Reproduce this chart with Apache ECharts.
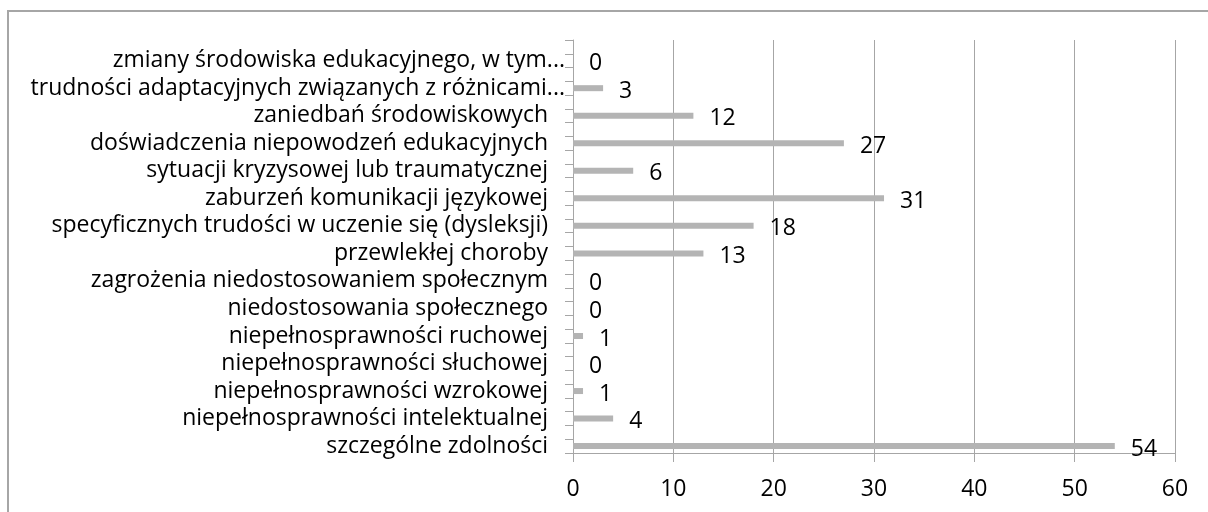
<!DOCTYPE html>
<html>
<head>
<meta charset="utf-8">
<script src="https://cdn.jsdelivr.net/npm/echarts@6/dist/echarts.min.js"></script>
<style>
  html, body { margin: 0; padding: 0; background: #fff; }
  #main { width: 1208px; height: 512px; }
</style>
</head>
<body>
<div id="main"></div>
<script>
// kategorie od góry do dołu
var categories = [
	"zmiany środowiska edukacyjnego, w tym...",
	"trudności adaptacyjnych związanych z różnicami...",
	"zaniedbań środowiskowych",
	"doświadczenia niepowodzeń edukacyjnych",
	"sytuacji kryzysowej lub traumatycznej",
	"zaburzeń komunikacji językowej",
	"specyficznych trudości w uczenie się (dysleksji)",
	"przewlekłej choroby",
	"zagrożenia niedostosowaniem społecznym",
	"niedostosowania społecznego",
	"niepełnosprawności ruchowej",
	"niepełnosprawności słuchowej",
	"niepełnosprawności wzrokowej",
	"niepełnosprawności intelektualnej",
	"szczególne zdolności"
];
var values = [0, 3, 12, 27, 6, 31, 18, 13, 0, 0, 1, 0, 1, 4, 54];
var xTicks = [0, 10, 20, 30, 40, 50, 60];

var FONT = "Open Sans";
var FSIZE = 23;
var GRAY = "#a6a6a6";

// każda kategoria zajmuje dwa pola osi, słupek w dolnym
var slotLabels = [];
var slotValues = [];
for (var i = 0; i < categories.length; i++) {
	slotLabels.push("");
	slotValues.push("-");
	slotLabels.push(categories[i]);
	slotValues.push(values[i]);
}

var myChart = echarts.init(document.getElementById("main"));
var option = {
	backgroundColor: "#fff",
	animation: false,
	textStyle: { fontFamily: FONT },
	graphic: [{
		type: "rect",
		shape: { x: 8, y: 11, width: 1300, height: 600 },
		style: { fill: "none", stroke: GRAY, lineWidth: 2 },
		silent: true
	}],
	grid: { left: 573, top: 40, width: 602, height: 413 },
	xAxis: {
		type: "value",
		min: xTicks[0],
		max: xTicks[xTicks.length - 1],
		interval: 10,
		axisLine: { show: true, lineStyle: { color: GRAY, width: 1 } },
		axisTick: { show: true, length: 9, lineStyle: { color: GRAY } },
		splitLine: { show: true, lineStyle: { color: GRAY, width: 1 } },
		axisLabel: { fontSize: FSIZE, color: "#000", margin: 25, fontFamily: FONT }
	},
	yAxis: {
		type: "category",
		inverse: true,
		data: slotLabels,
		axisLine: { show: true, lineStyle: { color: GRAY, width: 1 } },
		axisTick: { show: true, interval: 0, length: 8, lineStyle: { color: GRAY } },
		splitLine: { show: false },
		axisLabel: {
			interval: 0,
			margin: 8,
			fontSize: FSIZE,
			color: "#000",
			fontFamily: FONT,
			formatter: function (v) {
				if (v.indexOf("...") > 0) {
					return v;
				}
				return "{n|" + v + "}";
			},
			rich: {
				n: { fontSize: FSIZE, color: "#000", fontFamily: FONT, padding: [0, 17, 0, 0] }
			}
		}
	},
	series: [{
		type: "bar",
		data: slotValues,
		barWidth: 6,
		itemStyle: { color: "#b4b4b4" },
		label: {
			show: true,
			position: "right",
			distance: 16,
			offset: [0, 3],
			fontSize: FSIZE,
			color: "#000",
			fontFamily: FONT
		}
	}]
};
myChart.setOption(option);
</script>
</body>
</html>
